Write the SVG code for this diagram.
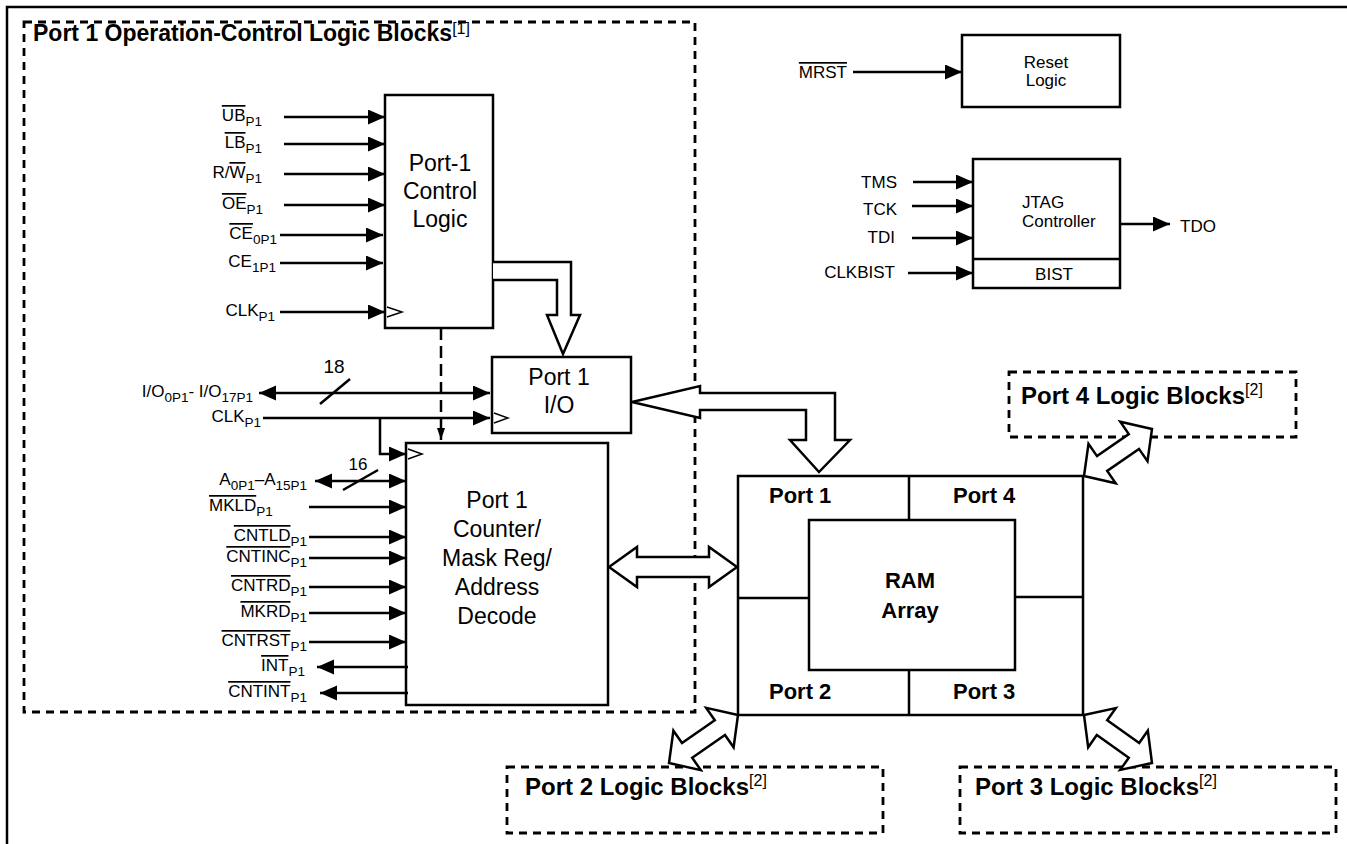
<svg xmlns="http://www.w3.org/2000/svg" width="1347" height="844" viewBox="0 0 1347 844">
<defs>
<style>
.ln{stroke:#000;stroke-width:2.5;fill:none}
.box{fill:#fff;stroke:#000;stroke-width:2.5}
.thin{fill:none;stroke:#000;stroke-width:1.5}
.dash{fill:none;stroke:#000;stroke-width:2.8;stroke-dasharray:8 6}
.big{fill:#fff;stroke:#000;stroke-width:2.5;stroke-linejoin:miter}
text{font-family:"Liberation Sans",Arial,Helvetica,sans-serif;fill:#000}
.s{font-size:17px}
.sub{font-size:13.5px}
.m{font-size:23px}
.r{font-size:17px}
.b{font-size:22px;font-weight:bold}
.bt{font-size:23px;font-weight:bold}
.bl{font-size:24px;font-weight:bold}
.sup{font-size:16px;font-weight:normal}
.ov{text-decoration:overline}
</style>
<marker id="ah" markerUnits="userSpaceOnUse" markerWidth="18" markerHeight="16" refX="17" refY="7.5" orient="auto-start-reverse">
<path d="M0,0 L17,7.5 L0,15 z" fill="#000"/>
</marker>
<marker id="ahs" markerUnits="userSpaceOnUse" markerWidth="10" markerHeight="12" refX="12" refY="4" orient="auto">
<path d="M0,0 L12,4 L0,8 z" fill="#000"/>
</marker>
</defs>
<rect width="1347" height="844" fill="#fff"/>
<g id="frame">
<path class="ln" d="M7,844 V7 H1347" stroke-width="3"/>
</g>
<g id="port1-block">
<rect class="dash" x="24" y="22" width="671" height="690"/>
<text class="bt" x="33" y="41">Port 1 Operation-Control Logic Blocks<tspan class="sup" dy="-7">[1]</tspan></text>
</g>
<g id="control-logic">
<rect class="box" x="385" y="95" width="108" height="233"/>
<path class="thin" d="M387,307 L402,312 L387,317"/>
<text class="m" x="440" y="171" text-anchor="middle">Port-1</text>
<text class="m" x="440" y="199" text-anchor="middle">Control</text>
<text class="m" x="440" y="227" text-anchor="middle">Logic</text>
</g>
<g id="port1-io">
<rect class="box" x="492" y="357" width="139" height="76"/>
<path class="thin" d="M494,413 L508,418 L494,423"/>
<text class="m" x="559" y="385" text-anchor="middle">Port 1</text>
<text class="m" x="559" y="413" text-anchor="middle">I/O</text>
</g>
<g id="counter">
<rect class="box" x="406" y="443" width="202" height="262"/>
<path class="thin" d="M408,449 L422,454 L408,459"/>
<text class="m" x="497" y="508" text-anchor="middle">Port 1</text>
<text class="m" x="497" y="537" text-anchor="middle">Counter/</text>
<text class="m" x="497" y="566" text-anchor="middle">Mask Reg/</text>
<text class="m" x="497" y="595" text-anchor="middle">Address</text>
<text class="m" x="497" y="624" text-anchor="middle">Decode</text>
</g>
<g id="reset-logic">
<rect class="box" x="962" y="35" width="158" height="72"/>
<text class="r" x="1046" y="68" text-anchor="middle" font-size="16">Reset</text>
<text class="r" x="1046" y="86" text-anchor="middle" font-size="16">Logic</text>
</g>
<g id="jtag">
<rect class="box" x="973" y="159" width="147" height="129"/>
<line class="ln" x1="973" y1="259" x2="1120" y2="259"/>
<text class="r" x="1022" y="208">JTAG</text>
<text class="r" x="1022" y="227">Controller</text>
<text class="r" x="1054" y="280" text-anchor="middle">BIST</text>
</g>
<g id="ram">
<rect class="box" x="738" y="476" width="345" height="239"/>
<rect class="box" x="809" y="520" width="206" height="150"/>
<path class="ln" d="M909,476 V520 M909,670 V715 M738,598 H809 M1015,597 H1083"/>
<text class="b" x="769" y="503">Port 1</text>
<text class="b" x="953" y="503">Port 4</text>
<text class="b" x="769" y="699">Port 2</text>
<text class="b" x="953" y="699">Port 3</text>
<text class="b" x="910" y="588" text-anchor="middle">RAM</text>
<text class="b" x="910" y="618" text-anchor="middle">Array</text>
</g>
<g id="port4-block">
<rect class="dash" x="1009" y="372" width="287" height="65"/>
<text class="bl" x="1021" y="404">Port 4 Logic Blocks<tspan class="sup" dy="-9">[2]</tspan></text>
</g>
<g id="port2-block">
<rect class="dash" x="507" y="767" width="376" height="66"/>
<text class="bl" x="525" y="795">Port 2 Logic Blocks<tspan class="sup" dy="-9">[2]</tspan></text>
</g>
<g id="port3-block">
<rect class="dash" x="960" y="767" width="376" height="66"/>
<text class="bl" x="975" y="795">Port 3 Logic Blocks<tspan class="sup" dy="-9">[2]</tspan></text>
</g>
<g id="labels" class="s">
<text x="262" y="121" text-anchor="end"><tspan class="ov">UB</tspan><tspan class="sub" dy="5">P1</tspan></text>
<text x="262" y="148" text-anchor="end"><tspan class="ov">LB</tspan><tspan class="sub" dy="5">P1</tspan></text>
<text x="262" y="178" text-anchor="end">R/<tspan class="ov">W</tspan><tspan class="sub" dy="5">P1</tspan></text>
<text x="263" y="209" text-anchor="end"><tspan class="ov">OE</tspan><tspan class="sub" dy="5">P1</tspan></text>
<text x="277" y="239" text-anchor="end"><tspan class="ov">CE</tspan><tspan class="sub" dy="5">0P1</tspan></text>
<text x="276" y="267" text-anchor="end">CE<tspan class="sub" dy="5">1P1</tspan></text>
<text x="275" y="316" text-anchor="end">CLK<tspan class="sub" dy="5">P1</tspan></text>
<text x="253" y="397" text-anchor="end">I/O<tspan class="sub" dy="5">0P1</tspan><tspan dy="-5">- I/O</tspan><tspan class="sub" dy="5">17P1</tspan></text>
<text x="334" y="373" text-anchor="middle" font-size="19">18</text>
<text x="261" y="422" text-anchor="end">CLK<tspan class="sub" dy="5">P1</tspan></text>
<text x="307" y="485" text-anchor="end">A<tspan class="sub" dy="5">0P1</tspan><tspan dy="-5">–A</tspan><tspan class="sub" dy="5">15P1</tspan></text>
<text x="358" y="470" text-anchor="middle">16</text>
<text x="209" y="511"><tspan class="ov">MKLD</tspan><tspan class="sub" dy="5">P1</tspan></text>
<text x="307" y="541" text-anchor="end"><tspan class="ov">CNTLD</tspan><tspan class="sub" dy="5">P1</tspan></text>
<text x="307" y="562" text-anchor="end"><tspan class="ov">CNTINC</tspan><tspan class="sub" dy="5">P1</tspan></text>
<text x="307" y="591" text-anchor="end"><tspan class="ov">CNTRD</tspan><tspan class="sub" dy="5">P1</tspan></text>
<text x="307" y="617" text-anchor="end"><tspan class="ov">MKRD</tspan><tspan class="sub" dy="5">P1</tspan></text>
<text x="307" y="646" text-anchor="end"><tspan class="ov">CNTRST</tspan><tspan class="sub" dy="5">P1</tspan></text>
<text x="305" y="671" text-anchor="end"><tspan class="ov">INT</tspan><tspan class="sub" dy="5">P1</tspan></text>
<text x="307" y="697" text-anchor="end"><tspan class="ov">CNTINT</tspan><tspan class="sub" dy="5">P1</tspan></text>
<text x="847" y="78" text-anchor="end"><tspan class="ov">MRST</tspan></text>
<text x="897" y="188" text-anchor="end">TMS</text>
<text x="897" y="215" text-anchor="end">TCK</text>
<text x="895" y="243" text-anchor="end">TDI</text>
<text x="895" y="278" text-anchor="end">CLKBIST</text>
<text x="1180" y="232">TDO</text>
</g>
<g id="connectors">
<g class="ln" marker-end="url(#ah)">
<line x1="284" y1="117" x2="385" y2="117"/>
<line x1="284" y1="144" x2="385" y2="144"/>
<line x1="284" y1="174" x2="385" y2="174"/>
<line x1="284" y1="205" x2="385" y2="205"/>
<line x1="280" y1="235" x2="383" y2="235"/>
<line x1="280" y1="263" x2="383" y2="263"/>
<line x1="280" y1="312" x2="385" y2="312"/>
<line x1="259" y1="393" x2="490" y2="393" marker-start="url(#ah)"/>
<line x1="263" y1="418" x2="490" y2="418"/>
<path d="M380,418 V454 H406"/>
<line x1="315" y1="481" x2="406" y2="481" marker-start="url(#ah)"/>
<line x1="309" y1="507" x2="406" y2="507"/>
<line x1="309" y1="537" x2="406" y2="537"/>
<line x1="309" y1="558" x2="406" y2="558"/>
<line x1="309" y1="587" x2="406" y2="587"/>
<line x1="309" y1="613" x2="406" y2="613"/>
<line x1="309" y1="642" x2="406" y2="642"/>
<line x1="408" y1="667" x2="317" y2="667"/>
<line x1="408" y1="693" x2="320" y2="693"/>
<line x1="853" y1="72" x2="962" y2="72"/>
<line x1="913" y1="182" x2="973" y2="182"/>
<line x1="912" y1="206" x2="973" y2="206"/>
<line x1="912" y1="238" x2="973" y2="238"/>
<line x1="908" y1="273" x2="973" y2="273"/>
<line x1="1120" y1="224" x2="1170" y2="224"/>
</g>
<line class="ln" x1="441" y1="328" x2="441" y2="440" stroke-dasharray="12 6" marker-end="url(#ahs)"/>
<line class="ln" x1="320" y1="404" x2="350" y2="379"/>
<line class="ln" x1="343" y1="490" x2="378" y2="470"/>
<path class="big" d="M493,262 H571 V315 H580 L563,354 L547,315 H557 V280 H493"/>
<path class="big" d="M632,402 L700,386 V393 H835 V440 H850 L819,472 L790,440 H806 V410 H700 V418 Z"/>
<path class="big" d="M609,567 L637,547 V557 H709 V547 L737,567 L709,587 V577 H637 V587 Z"/>
<path class="big" d="M1084,476 L1115.7,483.2 L1107.2,470.9 L1139,448.9 L1147.5,461.2 L1152,429 L1120.3,421.8 L1128.8,434.1 L1097,456.1 L1088.5,443.8 Z"/>
<path class="big" d="M738,715 L706.2,707.9 L714.8,720.2 L682,743 L673.4,730.7 L669,763 L700.8,770.1 L692.2,757.8 L725,735 L733.6,747.3 Z"/>
<path class="big" d="M1084,715 L1088.2,747.3 L1096.8,735.1 L1128.8,757.7 L1120.2,769.9 L1152,763 L1147.8,730.7 L1139.2,742.9 L1107.2,720.3 L1115.8,708.1 Z"/>
</g>
</svg>
